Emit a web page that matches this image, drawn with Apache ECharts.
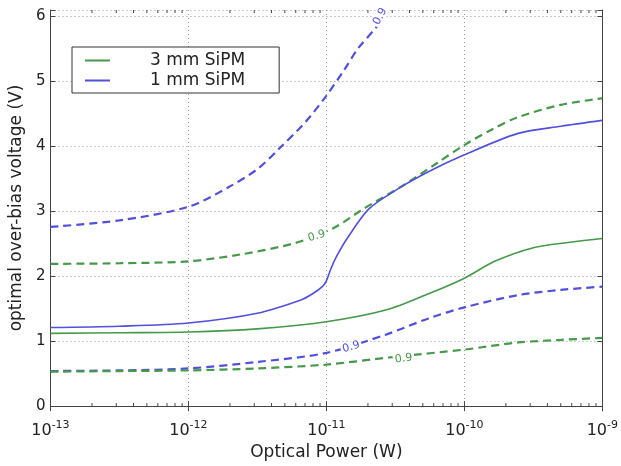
<!DOCTYPE html>
<html>
<head>
<meta charset="utf-8">
<title>Optimal over-bias voltage vs optical power</title>
<script src="https://cdn.jsdelivr.net/npm/echarts@6/dist/echarts.min.js"></script>
<style>
  html, body { margin: 0; padding: 0; background: #fff; }
  #chart { width: 621px; height: 466px; }
</style>
</head>
<body>
<div id="chart"></div>
<script>
// x values are log10 of the optical power (W), y values the voltage (V)
const green3Exp = [-13, -12.5, -12, -11.5, -11, -10.57, -10.26, -10, -9.78, -9.5, -9.25, -9];
const green3V = [1.12, 1.13, 1.14, 1.19, 1.30, 1.48, 1.73, 1.97, 2.23, 2.44, 2.52, 2.58];

const blue1Exp = [-13, -12.5, -12, -11.5, -11.19, -11.1, -11.03, -11, -10.97, -10.93, -10.85, -10.69, -10.47, -10.25, -10, -9.61, -9.3, -9];
const blue1V = [1.21, 1.23, 1.28, 1.43, 1.63, 1.73, 1.84, 1.93, 2.1, 2.29, 2.58, 3.04, 3.36, 3.62, 3.87, 4.2, 4.31, 4.40];

// dashed contours (0.9 level)
const blueUpExp = [-13, -12.5, -12, -11.71, -11.5, -11.34, -11.15, -11, -10.87, -10.77, -10.64, -10.53];
const blueUpV = [2.76, 2.86, 3.07, 3.37, 3.65, 3.97, 4.38, 4.78, 5.18, 5.51, 5.83, 6.15];

const greenUpExp = [-13, -12.5, -12, -11.61, -11.23, -10.95, -10.73, -10.45, -10.2, -10, -9.8, -9.61, -9.3, -9];
const greenUpV = [2.19, 2.20, 2.23, 2.34, 2.51, 2.74, 3.04, 3.39, 3.74, 4.02, 4.26, 4.45, 4.64, 4.74];

const blueLowExp = [-13, -12.5, -12, -11.5, -11, -10.57, -10.26, -10, -9.61, -9.3, -9];
const blueLowV = [0.54, 0.55, 0.58, 0.68, 0.82, 1.10, 1.35, 1.52, 1.71, 1.79, 1.84];

const greenLowExp = [-13, -12.5, -12, -11.5, -11, -10.5, -10, -9.61, -9.3, -9];
const greenLowV = [0.53, 0.54, 0.55, 0.58, 0.64, 0.76, 0.87, 0.98, 1.02, 1.05];

// contour label spots: [log10 power, voltage, rotation]
const labelBlueUp = [-10.61, 6.0, 62];
const labelGreenUp = [-11.07, 2.62, 16];
const labelBlueLow = [-10.82, 0.91, 16];
const labelGreenLow = [-10.44, 0.73, 7];

const legendNames = ['3 mm SiPM', '1 mm SiPM'];
const yTicks = [0, 1, 2, 3, 4, 5, 6];

const GREEN = '#46994a';
const BLUE = '#5050dc';
const FONT = 'DejaVu Sans';

function pts(exps, vals) {
  return exps.map((e, i) => [Math.pow(10, e), vals[i]]);
}

// minor ticks of the log axis: 2..9 x 10^n
const minorTicks = [];
for (let n = -13; n < -9; n++) {
  for (let k = 2; k <= 9; k++) minorTicks.push([k * Math.pow(10, n), 0]);
}

function contourLabel(spot, color) {
  return {
    symbol: 'circle',
    symbolSize: 1,
    itemStyle: { color: 'rgba(0,0,0,0)' },
    label: {
      show: true,
      position: 'inside',
      formatter: '0.9',
      rotate: spot[2],
      color: color,
      fontFamily: FONT,
      fontSize: 11,
      backgroundColor: '#fff',
      padding: [0, 2]
    },
    data: [{ coord: [Math.pow(10, spot[0]), spot[1]] }]
  };
}

function curve(name, exps, vals, color, dashed, spot) {
  const s = {
    name: name,
    type: 'line',
    data: pts(exps, vals),
    symbol: 'none',
    smooth: 0.3,
    color: color,
    lineStyle: dashed
      ? { color: color, width: 2.2, type: [8, 5] }
      : { color: color, width: 1.6 },
    z: dashed ? 2 : 3
  };
  if (spot) s.markPoint = contourLabel(spot, color);
  return s;
}

const chart = echarts.init(document.getElementById('chart'));

const gridLine = { show: true, lineStyle: { type: [1, 3], color: '#999', width: 1 } };

const logAxisBase = {
  type: 'log',
  logBase: 10,
  min: 1e-13,
  max: 1e-9,
  gridIndex: 0,
  splitLine: { show: false },
  axisLine: { show: true, lineStyle: { color: '#444', width: 1 } },
  axisTick: { show: true, inside: true, length: 5, lineStyle: { color: '#444' } }
};

const valueAxisBase = {
  type: 'value',
  min: 0,
  max: 6.1,
  interval: 1,
  gridIndex: 0,
  splitLine: { show: false },
  axisLine: { show: true, lineStyle: { color: '#444', width: 1 } },
  axisTick: { show: true, inside: true, length: 5, lineStyle: { color: '#444' } }
};

const option = {
  animation: false,
  backgroundColor: '#fff',
  textStyle: { fontFamily: FONT },
  grid: { left: 46, right: 15, top: 10, bottom: 52, containLabel: false },
  legend: {
    data: legendNames,
    orient: 'vertical',
    left: 72,
    top: 47,
    itemWidth: 25,
    itemHeight: 2,
    itemGap: 3,
    icon: 'rect',
    padding: [5, 34, 4, 13],
    borderColor: '#333',
    borderWidth: 1,
    borderRadius: 0,
    backgroundColor: '#fff',
    textStyle: { fontFamily: FONT, fontSize: 17, color: '#222', padding: [0, 0, 0, 35] }
  },
  xAxis: [
    Object.assign({}, logAxisBase, {
      position: 'bottom',
      name: 'Optical Power (W)',
      nameLocation: 'middle',
      nameGap: 36,
      nameTextStyle: { fontFamily: FONT, fontSize: 17, color: '#222' },
      splitLine: gridLine,
      axisLabel: {
        margin: 11,
        formatter: function (v) {
          const e = Math.round(Math.log10(v));
          return '{b|10}{s|' + e + '}';
        },
        rich: {
          b: { fontFamily: FONT, fontSize: 16, color: '#222', padding: [6, 0, 0, 0] },
          s: { fontFamily: FONT, fontSize: 11, color: '#222', padding: [0, 0, 6, 0] }
        }
      }
    }),
    Object.assign({}, logAxisBase, { position: 'top', axisLabel: { show: false } })
  ],
  yAxis: [
    Object.assign({}, valueAxisBase, {
      position: 'left',
      name: 'optimal over-bias voltage (V)',
      nameLocation: 'middle',
      nameGap: 22,
      nameTextStyle: { fontFamily: FONT, fontSize: 17, color: '#222' },
      splitLine: gridLine,
      axisLabel: {
        margin: 5,
        fontFamily: FONT,
        fontSize: 15,
        color: '#222',
        formatter: function (v) {
          return yTicks.indexOf(v) >= 0 ? String(v) : '';
        }
      }
    }),
    Object.assign({}, valueAxisBase, { position: 'right', axisLabel: { show: false } })
  ],
  series: [
    {
      name: 'minor ticks',
      type: 'custom',
      silent: true,
      xAxisIndex: 0,
      yAxisIndex: 0,
      data: minorTicks,
      renderItem: function (params, api) {
        const x = api.coord([api.value(0), 0])[0];
        const cs = params.coordSys;
        const bottom = cs.y + cs.height;
        return {
          type: 'group',
          children: [
            { type: 'line', shape: { x1: x, y1: bottom, x2: x, y2: bottom - 3 }, style: { stroke: '#444', lineWidth: 1 } },
            { type: 'line', shape: { x1: x, y1: cs.y, x2: x, y2: cs.y + 3 }, style: { stroke: '#444', lineWidth: 1 } }
          ]
        };
      }
    },
    curve('3 mm SiPM', green3Exp, green3V, GREEN, false),
    curve('1 mm SiPM', blue1Exp, blue1V, BLUE, false),
    curve('1 mm SiPM 0.9 upper', blueUpExp, blueUpV, BLUE, true, labelBlueUp),
    curve('3 mm SiPM 0.9 upper', greenUpExp, greenUpV, GREEN, true, labelGreenUp),
    curve('1 mm SiPM 0.9 lower', blueLowExp, blueLowV, BLUE, true, labelBlueLow),
    curve('3 mm SiPM 0.9 lower', greenLowExp, greenLowV, GREEN, true, labelGreenLow)
  ]
};

chart.setOption(option);
</script>
</body>
</html>
